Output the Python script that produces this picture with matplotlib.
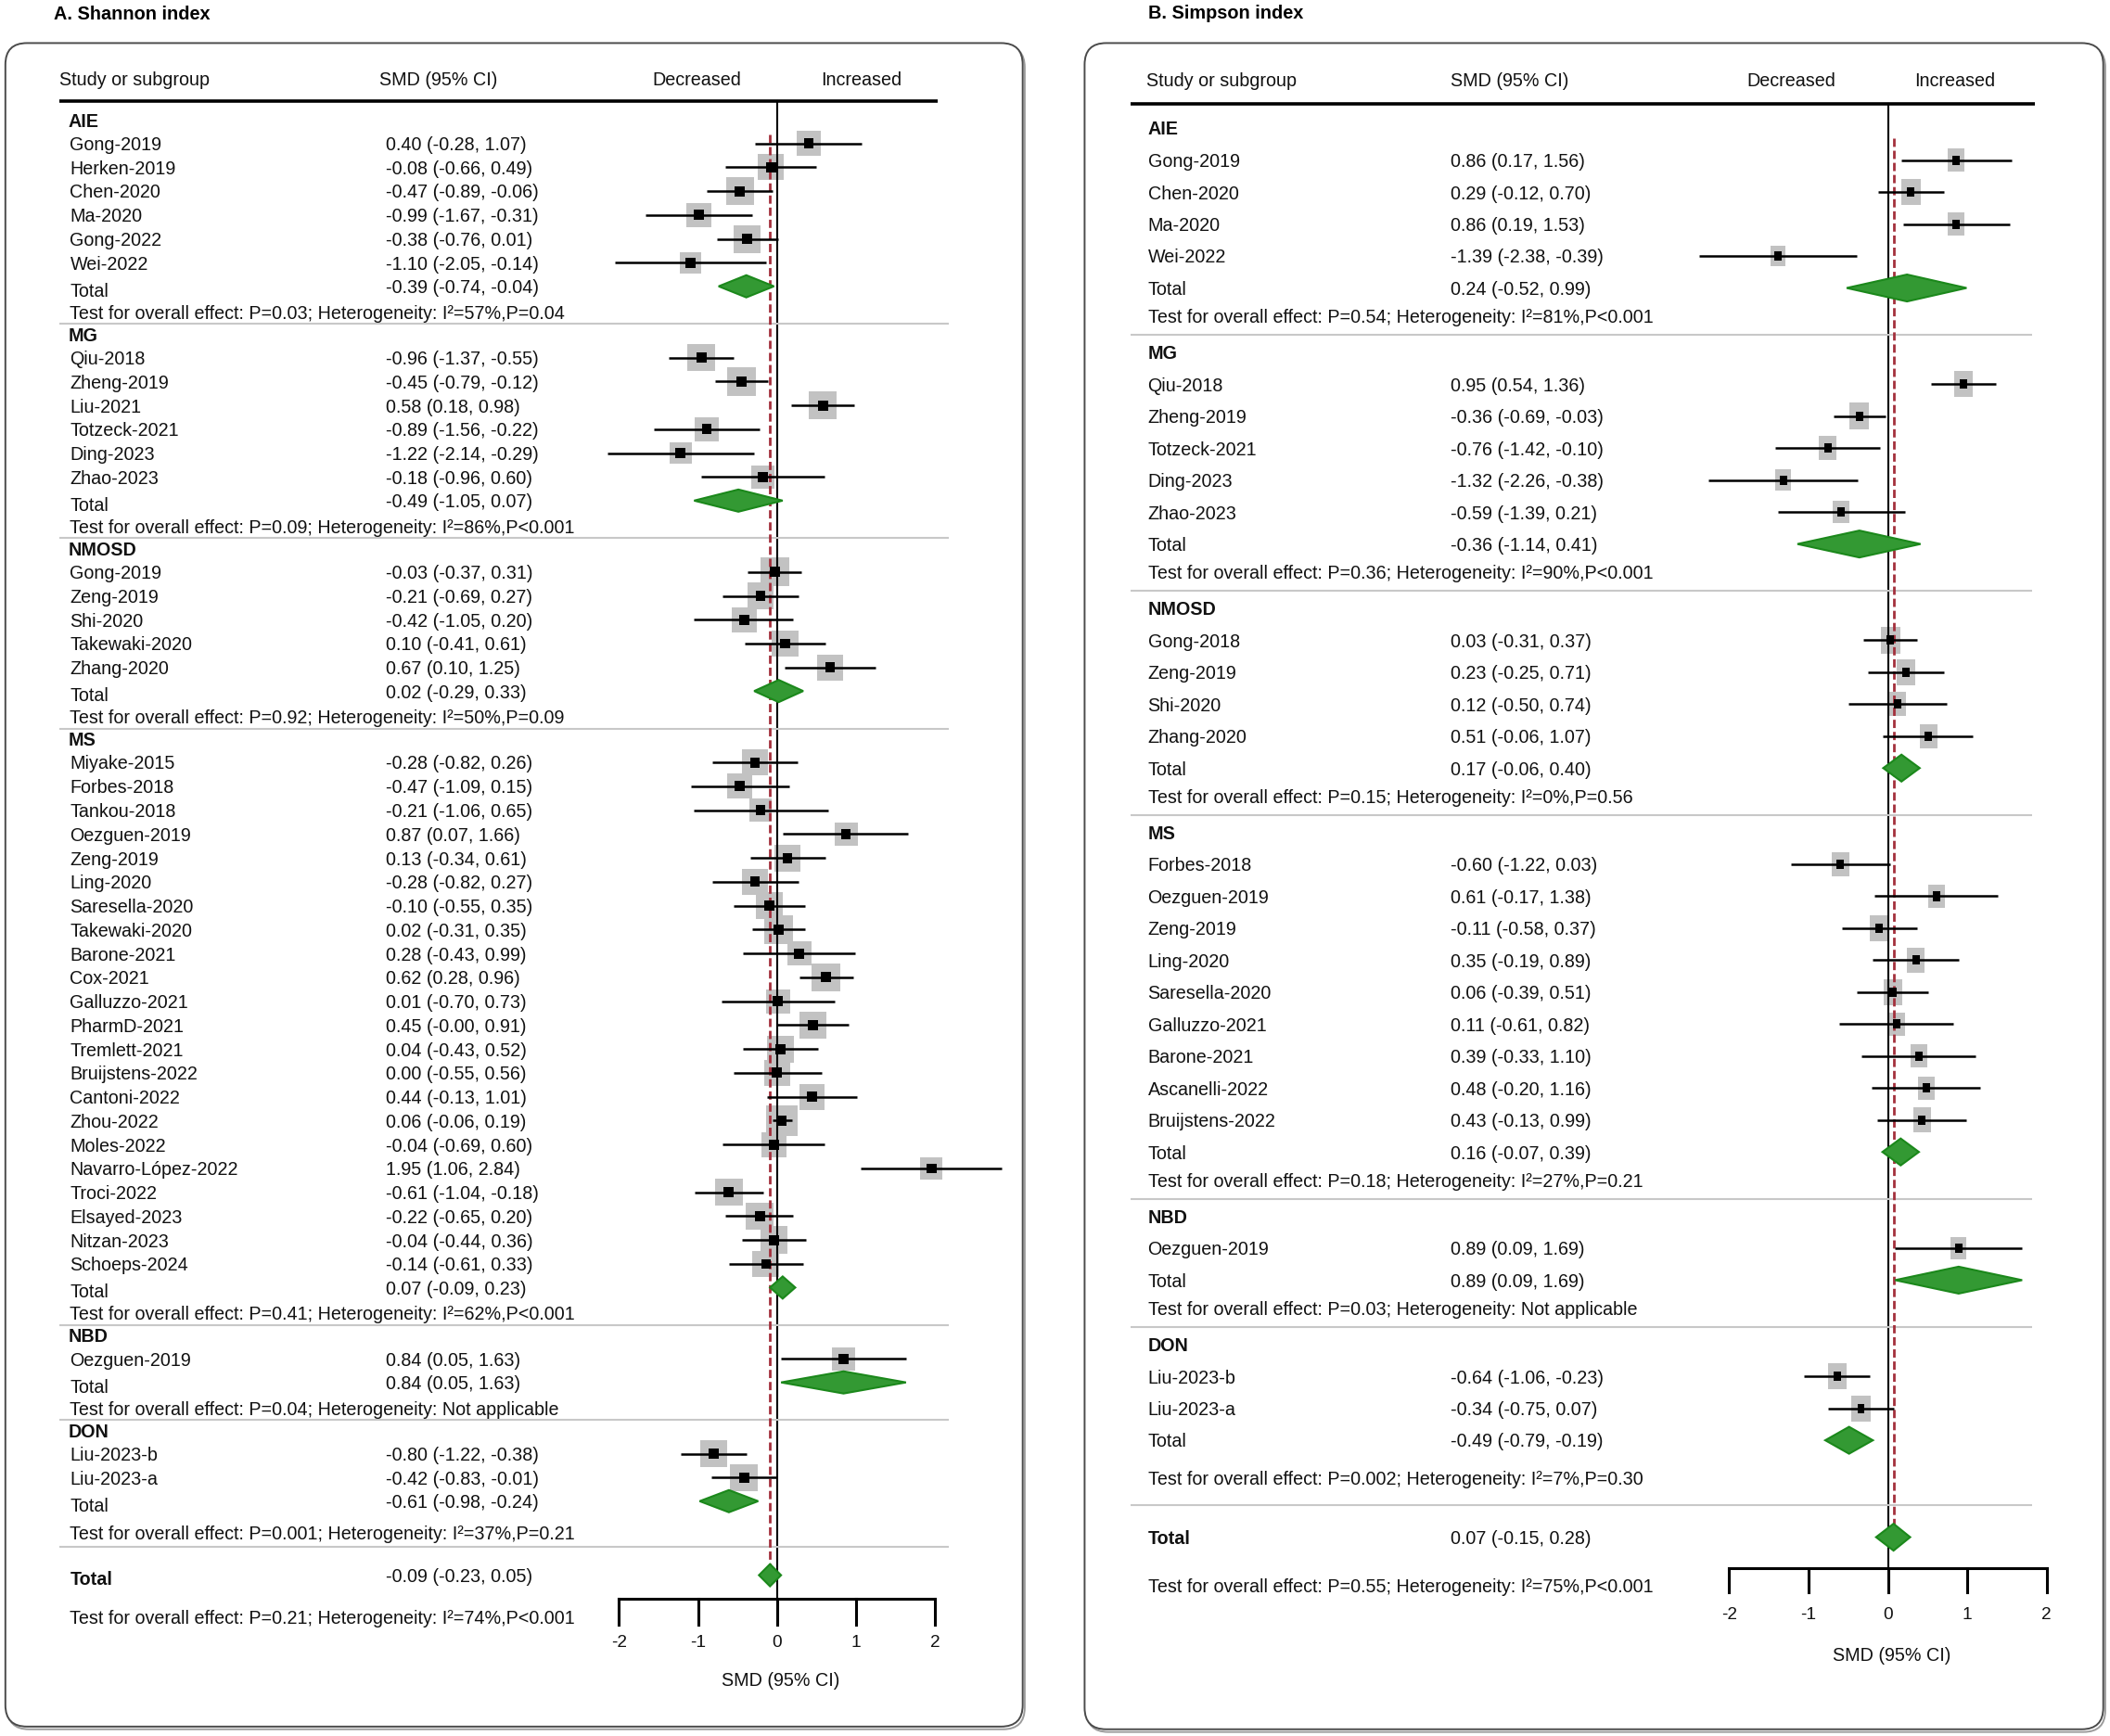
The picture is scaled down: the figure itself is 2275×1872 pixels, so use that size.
import matplotlib
matplotlib.use("Agg")
import matplotlib.pyplot as plt
from matplotlib.patches import Rectangle, Polygon, FancyBboxPatch
from matplotlib.transforms import blended_transform_factory
import numpy as np

plt.rcParams['font.family'] = ['Liberation Sans', 'DejaVu Sans']

# ---------------- A. Shannon index ----------------
sh_groups = ["AIE", "MG", "NMOSD", "MS", "NBD", "DON"]
sh_studies = [
    ["Gong-2019", "Herken-2019", "Chen-2020", "Ma-2020", "Gong-2022", "Wei-2022"],
    ["Qiu-2018", "Zheng-2019", "Liu-2021", "Totzeck-2021", "Ding-2023", "Zhao-2023"],
    ["Gong-2019", "Zeng-2019", "Shi-2020", "Takewaki-2020", "Zhang-2020"],
    ["Miyake-2015", "Forbes-2018", "Tankou-2018", "Oezguen-2019", "Zeng-2019", "Ling-2020",
     "Saresella-2020", "Takewaki-2020", "Barone-2021", "Cox-2021", "Galluzzo-2021", "PharmD-2021",
     "Tremlett-2021", "Bruijstens-2022", "Cantoni-2022", "Zhou-2022", "Moles-2022",
     "Navarro-López-2022", "Troci-2022", "Elsayed-2023", "Nitzan-2023", "Schoeps-2024"],
    ["Oezguen-2019"],
    ["Liu-2023-b", "Liu-2023-a"],
]
sh_smd = [
    [0.40, -0.08, -0.47, -0.99, -0.38, -1.10],
    [-0.96, -0.45, 0.58, -0.89, -1.22, -0.18],
    [-0.03, -0.21, -0.42, 0.10, 0.67],
    [-0.28, -0.47, -0.21, 0.87, 0.13, -0.28, -0.10, 0.02, 0.28, 0.62, 0.01, 0.45,
     0.04, 0.00, 0.44, 0.06, -0.04, 1.95, -0.61, -0.22, -0.04, -0.14],
    [0.84],
    [-0.80, -0.42],
]
sh_low = [
    [-0.28, -0.66, -0.89, -1.67, -0.76, -2.05],
    [-1.37, -0.79, 0.18, -1.56, -2.14, -0.96],
    [-0.37, -0.69, -1.05, -0.41, 0.10],
    [-0.82, -1.09, -1.06, 0.07, -0.34, -0.82, -0.55, -0.31, -0.43, 0.28, -0.70, -0.00,
     -0.43, -0.55, -0.13, -0.06, -0.69, 1.06, -1.04, -0.65, -0.44, -0.61],
    [0.05],
    [-1.22, -0.83],
]
sh_high = [
    [1.07, 0.49, -0.06, -0.31, 0.01, -0.14],
    [-0.55, -0.12, 0.98, -0.22, -0.29, 0.60],
    [0.31, 0.27, 0.20, 0.61, 1.25],
    [0.26, 0.15, 0.65, 1.66, 0.61, 0.27, 0.35, 0.35, 0.99, 0.96, 0.73, 0.91,
     0.52, 0.56, 1.01, 0.19, 0.60, 2.84, -0.18, 0.20, 0.36, 0.33],
    [1.63],
    [-0.38, -0.01],
]
sh_tot_smd = [-0.39, -0.49, 0.02, 0.07, 0.84, -0.61]
sh_tot_low = [-0.74, -1.05, -0.29, -0.09, 0.05, -0.98]
sh_tot_high = [-0.04, 0.07, 0.33, 0.23, 1.63, -0.24]
sh_p = ["0.03", "0.09", "0.92", "0.41", "0.04", "0.001"]
sh_i2 = [57, 86, 50, 62, None, 37]
sh_p_het = ["=0.04", "<0.001", "=0.09", "<0.001", None, "=0.21"]
sh_overall = [-0.09, -0.23, 0.05]
sh_overall_p = "0.21"
sh_overall_i2 = 74
sh_overall_p_het = "<0.001"

# ---------------- B. Simpson index ----------------
si_groups = ["AIE", "MG", "NMOSD", "MS", "NBD", "DON"]
si_studies = [
    ["Gong-2019", "Chen-2020", "Ma-2020", "Wei-2022"],
    ["Qiu-2018", "Zheng-2019", "Totzeck-2021", "Ding-2023", "Zhao-2023"],
    ["Gong-2018", "Zeng-2019", "Shi-2020", "Zhang-2020"],
    ["Forbes-2018", "Oezguen-2019", "Zeng-2019", "Ling-2020", "Saresella-2020",
     "Galluzzo-2021", "Barone-2021", "Ascanelli-2022", "Bruijstens-2022"],
    ["Oezguen-2019"],
    ["Liu-2023-b", "Liu-2023-a"],
]
si_smd = [
    [0.86, 0.29, 0.86, -1.39],
    [0.95, -0.36, -0.76, -1.32, -0.59],
    [0.03, 0.23, 0.12, 0.51],
    [-0.60, 0.61, -0.11, 0.35, 0.06, 0.11, 0.39, 0.48, 0.43],
    [0.89],
    [-0.64, -0.34],
]
si_low = [
    [0.17, -0.12, 0.19, -2.38],
    [0.54, -0.69, -1.42, -2.26, -1.39],
    [-0.31, -0.25, -0.50, -0.06],
    [-1.22, -0.17, -0.58, -0.19, -0.39, -0.61, -0.33, -0.20, -0.13],
    [0.09],
    [-1.06, -0.75],
]
si_high = [
    [1.56, 0.70, 1.53, -0.39],
    [1.36, -0.03, -0.10, -0.38, 0.21],
    [0.37, 0.71, 0.74, 1.07],
    [0.03, 1.38, 0.37, 0.89, 0.51, 0.82, 1.10, 1.16, 0.99],
    [1.69],
    [-0.23, 0.07],
]
si_tot_smd = [0.24, -0.36, 0.17, 0.16, 0.89, -0.49]
si_tot_low = [-0.52, -1.14, -0.06, -0.07, 0.09, -0.79]
si_tot_high = [0.99, 0.41, 0.40, 0.39, 1.69, -0.19]
si_p = ["0.54", "0.36", "0.15", "0.18", "0.03", "0.002"]
si_i2 = [81, 90, 0, 27, None, 7]
si_p_het = ["<0.001", "<0.001", "=0.56", "=0.21", None, "=0.30"]
si_overall = [0.07, -0.15, 0.28]
si_overall_p = "0.55"
si_overall_i2 = 75
si_overall_p_het = "<0.001"

ticks = [-2, -1, 0, 1, 2]

# layout, in units of a 1568 x 1290 view of the figure
W, H = 1568.0, 1290.0
FS = 14.2
TXT_DY = 1.3   # text sits a little lower than the row centre
fig = plt.figure(figsize=(22.75, 18.72), dpi=100)


def fx(x):
    return x / W


def ci_text(e, lo, hi):
    return f"{e:.2f} ({lo:.2f}, {hi:.2f})"


def test_text(p, i2, phet):
    het = "Not applicable" if i2 is None else f"I²={i2}%,P{phet}"
    return f"Test for overall effect: P={p}; Heterogeneity: {het}"


def draw_forest(title, groups, studies, smd, low, high, tot_smd, tot_low, tot_high,
                p_eff, i2, p_het, overall, ov_p, ov_i2, ov_phet, L):
    ax = fig.add_axes([fx(L["x_lo"]), 0, fx(L["x_hi"] - L["x_lo"]), 1])
    ax.set_xlim(-2, 2)
    ax.set_ylim(H, 0)
    ax.axis("off")
    tr = blended_transform_factory(fig.transFigure, ax.transData)
    unit = (L["x_hi"] - L["x_lo"]) / 4.0

    def put(x, y, s, **kw):
        ax.text(fx(x), y + TXT_DY, s, transform=tr, fontsize=FS, va="center", color="#111111",
                clip_on=False, **kw)

    def hline(x0, x1, y, **kw):
        ax.plot([fx(x0), fx(x1)], [y, y], transform=tr, clip_on=False,
                solid_capstyle="butt", **kw)

    def diamond(e, lo, hi, y, h):
        ax.add_patch(Polygon([(lo, y), (e, y - h / 2), (hi, y), (e, y + h / 2)], closed=True,
                             fc="#339933", ec="#1b881b", lw=1.5, zorder=6, clip_on=False))

    # rounded frame with a faint shadow
    bx0, by0, bx1, by1 = L["box"]
    for dx, dy, ec, fc, z in [(1.5, 2.0, "#9c9c9c", "none", -3), (0, 0, "#4a4a4a", "white", -2)]:
        fig.patches.append(FancyBboxPatch(
            (fx(bx0 + dx), 1 - (by1 + dy) / H), fx(bx1 - bx0), (by1 - by0) / H,
            boxstyle=f"round,pad=0,rounding_size={fx(16)}", mutation_aspect=W / H,
            fc=fc, ec=ec, lw=1.4, transform=fig.transFigure, zorder=z))

    fig.text(fx(L["title"][0]), 1 - L["title"][1] / H, title, fontsize=14.3,
             fontweight="bold", va="center", ha="left")

    # header
    put(L["hdr_x"], L["hdr_y"], "Study or subgroup")
    put(L["smd_hdr_x"], L["hdr_y"], "SMD (95% CI)", ha="center")
    put(L["dec_x"], L["hdr_y"], "Decreased", ha="center")
    put(L["inc_x"], L["hdr_y"], "Increased", ha="center")
    hline(L["rule"][0], L["rule"][1], L["rule_y"], color="black", lw=2.6, zorder=3)

    y = L["y0"]
    ng = len(groups)
    for g in range(ng):
        put(L["x_grp"], y, groups[g], fontweight="bold")
        y += L["first"]
        for k, name in enumerate(studies[g]):
            if k:
                y += L["step"]
            e, lo, hi = smd[g][k], low[g][k], high[g][k]
            put(L["x_name"], y, name)
            put(L["x_num"], y, ci_text(e, lo, hi))
            ax.plot([lo, hi], [y, y], color="black", lw=1.8, zorder=3, clip_on=False,
                    solid_capstyle="butt")
            hgt = float(np.clip(L["sq_a"] - L["sq_b"] * (hi - lo), L["sq_min"], L["sq_max"]))
            wid = hgt * L["sq_aspect"] / unit
            ax.add_patch(Rectangle((e - wid / 2, y - hgt / 2), wid, hgt, fc="#c2c2c2",
                                   ec="none", zorder=1.5, clip_on=False))
            iw, ih = L["inner"]
            ax.add_patch(Rectangle((e - iw / unit / 2, y - ih / 2), iw / unit, ih, fc="black",
                                   ec="none", zorder=4, clip_on=False))
        y += L["total"]
        put(L["x_name"], y + L["tot_lbl"], "Total")
        put(L["x_num"], y, ci_text(tot_smd[g], tot_low[g], tot_high[g]))
        diamond(tot_smd[g], tot_low[g], tot_high[g], y, L["dia_h"])
        last = g == ng - 1
        y += L["test_last"] if last else L["test"]
        put(L["x_test"], y, test_text(p_eff[g], i2[g], p_het[g]))
        y += L["sep_last"] if last else L["sep"]
        hline(L["sep_x"][0], L["sep_x"][1], y, color="#c8c8c8", lw=1.5, zorder=2.2)
        y += L["hdr"]

    # overall
    y = y - L["hdr"] + L["ov_total"]
    put(L["x_name"], y + L["ov_lbl"], "Total", fontweight="bold")
    put(L["x_num"], y, ci_text(*overall))
    diamond(overall[0], overall[1], overall[2], y, L["dia_h"])
    put(L["x_test"], y + L["ov_test"], test_text(ov_p, ov_i2, ov_phet))

    axis_y = y + L["axis"]
    ax.plot([0, 0], [L["zero_top"], axis_y], color="black", lw=1.5, zorder=2, clip_on=False)
    ax.plot([overall[0]] * 2, [L["dash_top"], y + L["dash_end"]], color="#a3303c", lw=2.0,
            dashes=(3.2, 1.5), zorder=2.5, clip_on=False)
    ax.plot([ticks[0], ticks[-1]], [axis_y, axis_y], color="black", lw=2.2, zorder=3,
            clip_on=False, solid_capstyle="projecting")
    for t in ticks:
        ax.plot([t, t], [axis_y, axis_y + L["tick_len"]], color="black", lw=2.2, zorder=3,
                clip_on=False)
        ax.text(t, axis_y + L["tick_lbl"], f"{t}", ha="center", va="center", fontsize=FS - 0.5,
                color="#111111", clip_on=False)
    ax.text(0.05, axis_y + L["ax_lbl"], "SMD (95% CI)", ha="center", va="center", fontsize=FS,
            color="#111111", clip_on=False)


sh_layout = dict(
    x_lo=460, x_hi=695, box=(4, 32, 760, 1283), title=(40, 11),
    hdr_x=44, hdr_y=58, smd_hdr_x=326, dec_x=518, inc_x=640, rule=(44, 697), rule_y=75,
    x_grp=51, x_name=52, x_num=287, x_test=52, sep_x=(44, 705),
    y0=89, first=17.5, step=17.75, total=17.5, tot_lbl=2.5, test=19, sep=9, hdr=7.5,
    test_last=23, sep_last=11, ov_total=21, ov_lbl=2, ov_test=31,
    axis=17.5, tick_len=19, tick_lbl=33, ax_lbl=61,
    zero_top=75, dash_top=100, dash_end=-5, dia_h=16.5,
    sq_a=23.8, sq_b=4.1, sq_min=15, sq_max=23, sq_aspect=1.0, inner=(7.5, 7.5),
)

si_layout = dict(
    x_lo=1285, x_hi=1521, box=(806, 32, 1563, 1285), title=(853, 10),
    hdr_x=852, hdr_y=59, smd_hdr_x=1122, dec_x=1331, inc_x=1453, rule=(840, 1512), rule_y=77,
    x_grp=853, x_name=853, x_num=1078, x_test=853, sep_x=(840, 1510),
    y0=95, first=24, step=23.75, total=23.75, tot_lbl=0, test=21, sep=14, hdr=12.5,
    test_last=28, sep_last=20, ov_total=24, ov_lbl=0, ov_test=36,
    axis=23, tick_len=18, tick_lbl=35, ax_lbl=65,
    zero_top=77, dash_top=103, dash_end=9, dia_h=20,
    sq_a=22.4, sq_b=3.65, sq_min=14, sq_max=21, sq_aspect=0.72, inner=(5.5, 7.0),
)

draw_forest("A. Shannon index", sh_groups, sh_studies, sh_smd, sh_low, sh_high,
            sh_tot_smd, sh_tot_low, sh_tot_high, sh_p, sh_i2, sh_p_het,
            sh_overall, sh_overall_p, sh_overall_i2, sh_overall_p_het, sh_layout)
draw_forest("B. Simpson index", si_groups, si_studies, si_smd, si_low, si_high,
            si_tot_smd, si_tot_low, si_tot_high, si_p, si_i2, si_p_het,
            si_overall, si_overall_p, si_overall_i2, si_overall_p_het, si_layout)

fig.savefig("out.png", dpi=100, facecolor="white")
